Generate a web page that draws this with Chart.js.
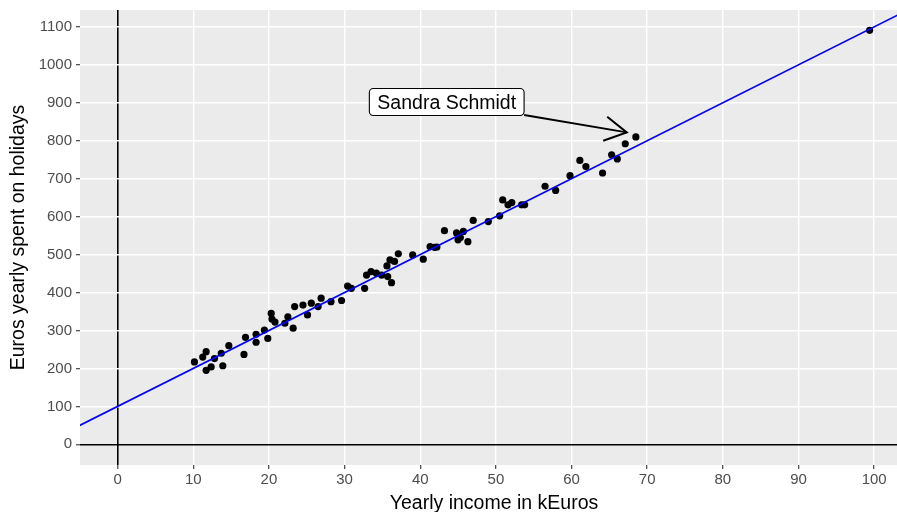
<!DOCTYPE html>
<html>
<head>
<meta charset="utf-8">
<script src="https://cdn.jsdelivr.net/npm/chart.js@4.4.1/dist/chart.umd.min.js"></script>
<style>
  html, body { margin: 0; padding: 0; background: #ffffff; overflow: hidden; }
  #wrap { width: 897px; height: 512px; overflow: hidden; }
  #c { display: block; }
</style>
</head>
<body>
<div id="wrap"><canvas id="c" width="912" height="512"></canvas></div>
<script>
// Yearly income (kEuros) per person
const incomeK = [
  10.15, 11.25, 11.7, 11.7, 12.36, 12.8, 13.7, 13.9, 14.7, 16.7,
  16.9, 18.3, 18.3, 19.4, 19.85, 20.3, 20.4, 20.8, 22.1, 22.5,
  23.2, 23.4, 24.5, 25.1, 25.6, 26.5, 26.9, 28.2, 29.6, 30.4,
  30.9, 32.65, 32.9, 33.5, 34.2, 34.9, 35.6, 35.7, 36.2, 36.0,
  36.6, 37.1, 39.0, 40.4, 41.3, 41.9, 42.2, 43.2, 44.8, 45.0,
  45.3, 45.7, 46.3, 47.0, 49.0, 50.5, 50.9, 51.6, 52.1, 53.4,
  53.8, 56.5, 57.9, 59.8, 61.1, 61.9, 64.1, 65.3, 66.05, 67.1,
  68.5, 99.4
];
// Euros spent on holidays per year, same order as incomeK
const holidaySpend = [
  217, 230, 244, 195, 204, 226, 240, 207, 260, 237,
  282, 290, 269, 301, 279, 345, 330, 322, 319, 336,
  306, 363, 367, 341, 372, 363, 385, 376, 379, 417,
  411, 411, 446, 455, 451, 446, 470, 442, 426, 486,
  482, 502, 499, 488, 521, 519, 520, 563, 557, 539,
  545, 561, 534, 590, 587, 602, 644, 631, 637, 631,
  631, 680, 669, 708, 748, 732, 715, 763, 752, 792,
  810, 1091
];

// Tick values along both axes
const xTicks = [0, 10, 20, 30, 40, 50, 60, 70, 80, 90, 100];
const yTicks = [0, 100, 200, 300, 400, 500, 600, 700, 800, 900, 1000, 1100];

// Reference line y = intercept + slope * x
const fitIntercept = 100;
const fitSlope = 10;

// Callout: label position and the point it refers to (data units)
const calloutName = 'Sandra Schmidt';
const calloutLabelX = 43.5, calloutLabelY = 902;
const calloutTargetX = 67.3, calloutTargetY = 822;

// Axis limits (5% expansion around the data and reference lines)
const X_MIN = -4.975, X_MAX = 104.475;
const Y_MIN = -54.5, Y_MAX = 1144.5;
const FONT = '"Liberation Sans", Arial, Helvetica, sans-serif';

const points = incomeK.map((x, i) => ({ x: x, y: holidaySpend[i] }));
const fitLine = [X_MIN - 1, X_MAX + 1].map(x => ({ x: x, y: fitIntercept + fitSlope * x }));

const panelBackground = {
  id: 'panelBackground',
  beforeDraw(chart) {
    const { ctx, chartArea: a } = chart;
    ctx.save();
    ctx.fillStyle = '#EBEBEB';
    ctx.fillRect(a.left, a.top, a.right - a.left, a.bottom - a.top);
    ctx.restore();
  }
};

const callout = {
  id: 'callout',
  afterDraw(chart) {
    const { ctx } = chart;
    const xs = chart.scales.x, ys = chart.scales.y;
    const cx = xs.getPixelForValue(calloutLabelX);
    const cy = ys.getPixelForValue(calloutLabelY);
    const tx = xs.getPixelForValue(calloutTargetX);
    const ty = ys.getPixelForValue(calloutTargetY);
    const fs = 19.5;

    ctx.save();
    ctx.font = fs + 'px ' + FONT;
    const tw = ctx.measureText(calloutName).width;
    const bw = tw + 16, bh = 27;
    const bx = cx - bw / 2, by = cy - bh / 2;

    // segment from the box edge towards the point
    const dx = tx - cx, dy = ty - cy;
    const t = (bw / 2) / Math.abs(dx);
    const sx = cx + dx * t, sy = cy + dy * t;
    ctx.strokeStyle = '#000';
    ctx.lineWidth = 2;
    ctx.lineCap = 'butt';
    ctx.beginPath();
    ctx.moveTo(sx, sy);
    ctx.lineTo(tx, ty);
    ctx.stroke();
    // open arrow head
    const ang = Math.atan2(ty - sy, tx - sx);
    const hl = 25, ha = Math.PI / 6.2;
    ctx.beginPath();
    ctx.moveTo(tx - hl * Math.cos(ang - ha), ty - hl * Math.sin(ang - ha));
    ctx.lineTo(tx, ty);
    ctx.lineTo(tx - hl * Math.cos(ang + ha), ty - hl * Math.sin(ang + ha));
    ctx.stroke();

    // label box
    const r = 4;
    ctx.beginPath();
    ctx.moveTo(bx + r, by);
    ctx.lineTo(bx + bw - r, by);
    ctx.arcTo(bx + bw, by, bx + bw, by + r, r);
    ctx.lineTo(bx + bw, by + bh - r);
    ctx.arcTo(bx + bw, by + bh, bx + bw - r, by + bh, r);
    ctx.lineTo(bx + r, by + bh);
    ctx.arcTo(bx, by + bh, bx, by + bh - r, r);
    ctx.lineTo(bx, by + r);
    ctx.arcTo(bx, by, bx + r, by, r);
    ctx.closePath();
    ctx.fillStyle = '#ffffff';
    ctx.fill();
    ctx.lineWidth = 1.1;
    ctx.stroke();

    ctx.fillStyle = '#000';
    ctx.textAlign = 'center';
    ctx.textBaseline = 'alphabetic';
    ctx.fillText(calloutName, cx, cy + fs * 0.716 / 2);
    ctx.restore();
  }
};

const gridColor = c => (c.tick && c.tick.value === 0) ? '#000000' : '#FFFFFF';
const gridWidth = c => (c.tick && c.tick.value === 0) ? 1.6 : 1.4;
const plainNumber = v => String(v);

new Chart(document.getElementById('c'), {
  data: {
    datasets: [
      {
        type: 'line',
        data: fitLine,
        borderColor: '#0000FF',
        borderWidth: 1.6,
        pointRadius: 0,
        fill: false,
        order: 0
      },
      {
        type: 'scatter',
        data: points,
        backgroundColor: '#000000',
        borderColor: '#000000',
        borderWidth: 0,
        pointRadius: 3.6,
        order: 1
      }
    ]
  },
  options: {
    responsive: false,
    animation: false,
    devicePixelRatio: 1,
    layout: { padding: { top: 10, right: 0, bottom: 0, left: 0 } },
    plugins: { legend: { display: false }, tooltip: { enabled: false } },
    scales: {
      x: {
        type: 'linear',
        min: X_MIN,
        max: X_MAX,
        afterFit(s) { s.height = 47; s.paddingLeft = 0; s.paddingRight = 0; },
        afterBuildTicks(s) { s.ticks = xTicks.map(v => ({ value: v })); },
        border: { display: false },
        grid: { color: gridColor, lineWidth: gridWidth, tickColor: '#333333', tickWidth: 1.1, tickLength: 4 },
        ticks: { color: '#4D4D4D', font: { family: FONT, size: 15 }, padding: 2, maxRotation: 0, autoSkip: false, callback: plainNumber },
        title: { display: true, text: 'Yearly income in kEuros', color: '#000000', font: { family: FONT, size: 19.5 }, padding: { top: 0, bottom: -3 } }
      },
      y: {
        type: 'linear',
        min: Y_MIN,
        max: Y_MAX,
        afterFit(s) { s.width = 80; s.paddingTop = 0; s.paddingBottom = 0; },
        afterBuildTicks(s) { s.ticks = yTicks.map(v => ({ value: v })); },
        border: { display: false },
        grid: { color: gridColor, lineWidth: gridWidth, tickColor: '#333333', tickWidth: 1.1, tickLength: 4 },
        ticks: { color: '#4D4D4D', font: { family: FONT, size: 15 }, padding: 4, autoSkip: false, callback: plainNumber },
        title: { display: true, text: 'Euros yearly spent on holidays', color: '#000000', font: { family: FONT, size: 19.5 }, padding: { top: 7, bottom: 0 } }
      }
    }
  },
  plugins: [panelBackground, callout]
});
</script>
</body>
</html>
